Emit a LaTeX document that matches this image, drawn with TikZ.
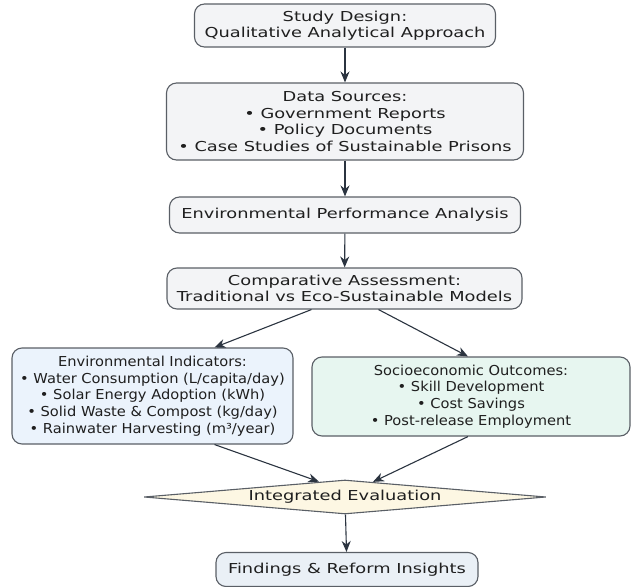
\documentclass[tikz,border=0pt]{standalone}
\usepackage{fontspec}
\setmainfont{DejaVu Sans}[FakeStretch=1.3]
\newfontfamily\narrowfont{DejaVu Sans}[FakeStretch=1.07]
\usetikzlibrary{shapes.geometric,arrows.meta}
\definecolor{grayfill}{HTML}{F3F4F6}
\definecolor{bluefill}{HTML}{EBF3FC}
\definecolor{greenfill}{HTML}{E7F6F0}
\definecolor{creamfill}{HTML}{FDF7E3}
\definecolor{findfill}{HTML}{EAF0F6}
\definecolor{edge}{HTML}{5A5F66}
\definecolor{arr}{HTML}{2B3440}
\tikzset{
  box/.style={draw=edge, line width=1.1pt, rounded corners=10pt, align=center,
    inner sep=0pt, font=\fontsize{13.7}{16.5}\selectfont, text=black!88},
  lowbox/.style={box, font=\narrowfont\fontsize{13.7}{16.7}\selectfont},
  flow/.style={draw=arr, line width=1.1pt, -{Stealth[length=11pt,width=9pt]}},
}
\begin{document}
\begin{tikzpicture}[x=1pt,y=1pt]
\useasboundingbox (0,0) rectangle (633,-587);
\node[box, fill=grayfill, minimum width=301pt, minimum height=43pt] (design) at (345,-25.5)
  {Study Design:\\Qualitative Analytical Approach};
\node[box, fill=grayfill, minimum width=357pt, minimum height=77pt] (data) at (345,-121.5)
  {Data Sources:\\• Government Reports\\• Policy Documents\\• Case Studies of Sustainable Prisons};
\node[box, fill=grayfill, minimum width=351pt, minimum height=36pt] (perf) at (345,-215)
  {Environmental Performance Analysis};
\node[box, fill=grayfill, minimum width=355pt, minimum height=41pt] (comp) at (344.5,-288.5)
  {Comparative Assessment:\\Traditional vs Eco-Sustainable Models};
\node[lowbox, fill=bluefill, minimum width=281pt, minimum height=96pt] (env) at (152.5,-396)
  {Environmental Indicators:\\• Water Consumption (L/capita/day)\\• Solar Energy Adoption (kWh)\\• Solid Waste \& Compost (kg/day)\\• Rainwater Harvesting (m³/year)};
\node[lowbox, fill=greenfill, minimum width=318pt, minimum height=79pt] (socio) at (471,-396.5)
  {Socioeconomic Outcomes:\\• Skill Development\\• Cost Savings\\• Post-release Employment};
\node[draw=edge, line width=1.1pt, fill=creamfill, shape=diamond, aspect=11.8, inner sep=0pt,
  minimum width=402pt, minimum height=34pt, font=\fontsize{13.7}{16.5}\selectfont, text=black!88]
  (evalu) at (345,-497) {Integrated Evaluation};
\node[box, fill=findfill, minimum width=262pt, minimum height=34pt] (find) at (347,-569.5)
  {Findings \& Reform Insights};
\draw[flow] (design) -- (data);
\draw[flow] (data) -- (perf);
\draw[flow] (perf) -- (comp);
\draw[flow] ([xshift=-33pt]comp.south) -- ([xshift=62pt]env.north);
\draw[flow] ([xshift=34pt]comp.south) -- ([xshift=-3pt]socio.north);
\draw[flow] ([xshift=62pt]env.south) -- ([xshift=-26pt,yshift=-2.2pt]evalu.north);
\draw[flow] ([xshift=-3pt]socio.south) -- ([xshift=28pt,yshift=-2.4pt]evalu.north);
\draw[flow] (evalu) -- (find);
\end{tikzpicture}
\end{document}
